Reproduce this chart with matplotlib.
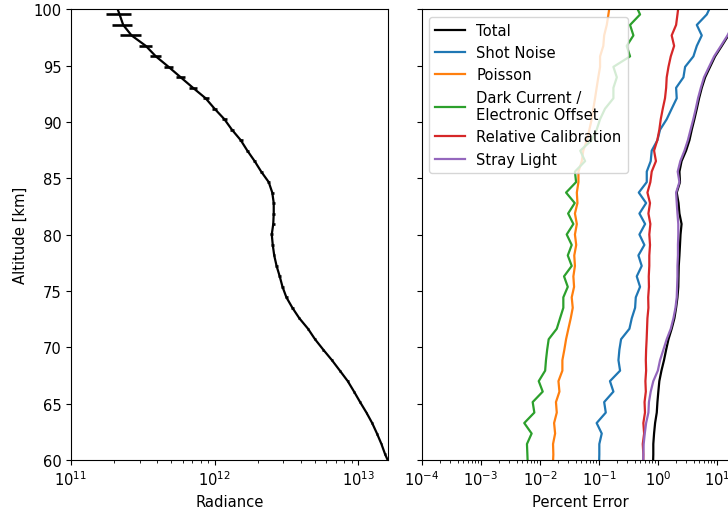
import numpy as np
import matplotlib
matplotlib.use('Agg')
import matplotlib.pyplot as plt

plt.rcParams['font.size'] = 10.6

altitude = [
    59.56, 60.49, 61.42, 62.35, 63.28, 64.21, 65.14, 66.07, 67.00, 67.93,
    68.86, 69.79, 70.72, 71.65, 72.58, 73.51, 74.44, 75.37, 76.30, 77.23,
    78.16, 79.09, 80.02, 80.95, 81.88, 82.81, 83.74, 84.67, 85.60, 86.53,
    87.46, 88.39, 89.32, 90.25, 91.18, 92.11, 93.04, 93.97, 94.90, 95.83,
    96.76, 97.69, 98.62, 99.55, 100.48,
]

# radiance and its error, in units of 1e12
radiance = [
    16.6, 15.4, 14.5, 13.5, 12.5, 11.4, 10.3, 9.35, 8.45, 7.45,
    6.56, 5.71, 5.00, 4.47, 3.89, 3.48, 3.16, 2.97, 2.84, 2.70,
    2.60, 2.54, 2.50, 2.56, 2.58, 2.58, 2.52, 2.38, 2.11, 1.90,
    1.69, 1.52, 1.32, 1.17, 1.00, 0.866, 0.707, 0.581, 0.478, 0.39,
    0.332, 0.264, 0.231, 0.218, 0.205,
]
radiance_err = [
    0.20, 0.19, 0.18, 0.17, 0.16, 0.15, 0.14, 0.13, 0.12, 0.11,
    0.10, 0.092, 0.085, 0.078, 0.072, 0.067, 0.063, 0.060, 0.057, 0.055,
    0.054, 0.053, 0.052, 0.052, 0.052, 0.052, 0.052, 0.051, 0.050, 0.049,
    0.048, 0.047, 0.046, 0.045, 0.044, 0.042, 0.041, 0.040, 0.036, 0.036,
    0.036, 0.045, 0.037, 0.043, 0.045,
]

# percent error components
total = [
    0.82, 0.83, 0.83, 0.855, 0.89, 0.95, 0.975, 1.01, 1.05, 1.14,
    1.26, 1.37, 1.50, 1.70, 1.89, 2.02, 2.13, 2.20, 2.22, 2.24,
    2.30, 2.35, 2.40, 2.50, 2.30, 2.22, 2.07, 2.35, 2.30, 2.50,
    2.98, 3.40, 3.72, 4.12, 4.53, 4.95, 5.50, 6.27, 7.60, 9.24,
    12.0, 15.5, 19.0, 23.0, 28.0,
]
shot_noise = [
    0.10, 0.101, 0.101, 0.111, 0.091, 0.130, 0.122, 0.175, 0.153, 0.227,
    0.213, 0.221, 0.236, 0.327, 0.358, 0.408, 0.419, 0.495, 0.435, 0.528,
    0.464, 0.586, 0.483, 0.603, 0.483, 0.627, 0.471, 0.643, 0.643, 0.75,
    0.78, 0.975, 1.08, 1.40, 1.70, 2.07, 2.02, 2.69, 2.87, 3.97,
    4.53, 5.50, 4.53, 6.69, 8.1,
]
poisson = [
    0.0165, 0.0168, 0.0166, 0.0180, 0.0173, 0.0192, 0.0186, 0.0213, 0.0205, 0.0239,
    0.0239, 0.0258, 0.0276, 0.0302, 0.0331, 0.0358, 0.0344, 0.0377, 0.0367, 0.039,
    0.038, 0.041, 0.039, 0.042, 0.039, 0.043, 0.042, 0.0447, 0.0447, 0.051,
    0.054, 0.062, 0.0685, 0.075, 0.080, 0.0855, 0.091, 0.097, 0.104, 0.104,
    0.118, 0.122, 0.135, 0.144, 0.153,
]
dark_current = [
    0.0062, 0.0061, 0.0060, 0.0072, 0.0054, 0.0080, 0.0075, 0.0111, 0.0095, 0.0122,
    0.0126, 0.0132, 0.0140, 0.0192, 0.0218, 0.0248, 0.0248, 0.0295, 0.0255, 0.0344,
    0.0295, 0.0344, 0.0283, 0.0367, 0.0299, 0.0387, 0.0276, 0.0408, 0.039, 0.058,
    0.048, 0.075, 0.091, 0.104, 0.126, 0.175, 0.175, 0.20, 0.175, 0.335,
    0.294, 0.382, 0.335, 0.495, 0.41,
]
relative_cal = [
    0.56, 0.563, 0.55, 0.58, 0.563, 0.60, 0.59, 0.62, 0.61, 0.627,
    0.62, 0.627, 0.64, 0.65, 0.66, 0.686, 0.68, 0.70, 0.695, 0.71,
    0.71, 0.73, 0.71, 0.74, 0.686, 0.73, 0.66, 0.74, 0.78, 0.92,
    0.855, 0.97, 1.05, 1.11, 1.20, 1.31, 1.37, 1.40, 1.50, 1.64,
    1.87, 1.70, 2.02, 2.13, 2.24,
]
stray_light = [
    0.56, 0.563, 0.57, 0.595, 0.627, 0.686, 0.70, 0.75, 0.83, 0.99,
    1.08, 1.23, 1.40, 1.64, 1.82, 1.97, 2.07, 2.10, 2.13, 2.13,
    2.17, 2.17, 2.20, 2.20, 2.13, 2.07, 2.02, 2.30, 2.15, 2.38,
    2.80, 3.20, 3.55, 3.95, 4.35, 4.75, 5.30, 6.00, 7.30, 8.90,
    11.6, 15.0, 18.5, 22.5, 27.0,
]

error_series = [
    ('Total', total, 'k'),
    ('Shot Noise', shot_noise, 'C0'),
    ('Poisson', poisson, 'C1'),
    ('Dark Current /\nElectronic Offset', dark_current, 'C2'),
    ('Relative Calibration', relative_cal, 'C3'),
    ('Stray Light', stray_light, 'C4'),
]


def main():
    fig = plt.figure(figsize=(7.28, 5.10), dpi=100)
    # the right panel runs past the figure edge, as in the cropped original
    ax1 = fig.add_axes([0.0975, 0.0961, 0.4354, 0.8835])
    ax2 = fig.add_axes([0.5797, 0.0961, 0.4354, 0.8835])

    plot_radiance(ax1)
    plot_errors(ax2)

    fig.savefig('out.png', dpi=100)


def plot_radiance(ax):
    rad = np.array(radiance) * 1e12
    err = np.array(radiance_err) * 1e12
    ax.errorbar(rad, altitude, xerr=err, color='k', lw=1.6, elinewidth=1.9)
    ax.set_xscale('log')
    ax.set_xlim(1e11, 1.61e13)
    ax.set_ylim(60, 100)
    ax.set_xlabel('Radiance')
    ax.set_ylabel('Altitude [km]')


def plot_errors(ax):
    for label, values, color in error_series:
        ax.plot(values, altitude, color=color, lw=1.6, label=label)
    ax.set_xscale('log')
    ax.set_xlim(1e-4, 23.5)
    ax.set_ylim(60, 100)
    ax.set_xlabel('Percent Error')
    ax.tick_params(labelleft=False)
    ax.legend(loc='upper left')


if __name__ == '__main__':
    main()
